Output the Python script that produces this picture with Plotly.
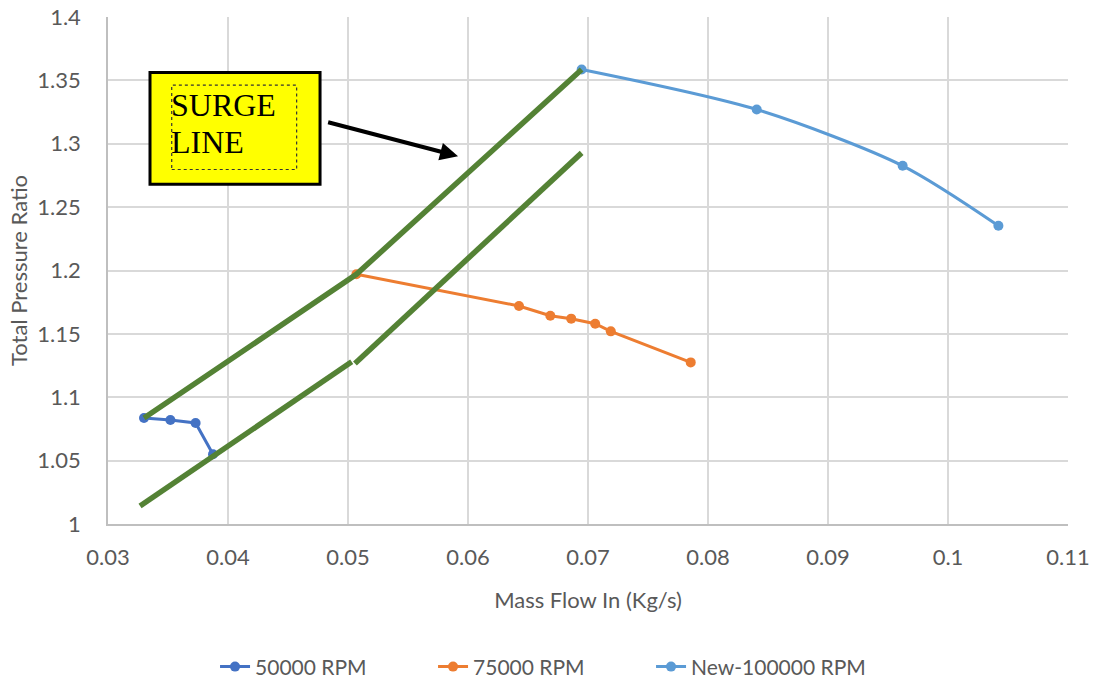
import plotly.graph_objects as go

# Data series
rpm50_x = [0.0330, 0.0352, 0.0373, 0.03875]
rpm50_y = [1.0836, 1.0820, 1.0797, 1.0550]

rpm75_x = [0.0507, 0.06425, 0.06686, 0.0686, 0.0706, 0.0719, 0.07856]
rpm75_y = [1.1970, 1.1720, 1.1643, 1.1620, 1.1580, 1.1520, 1.1275]

rpm100_x = [0.06947, 0.08406, 0.09622, 0.1042]
rpm100_y = [1.3586, 1.3270, 1.2826, 1.2353]

# Hand-drawn surge lines
surge_upper_x = [0.0330, 0.0507, 0.06947]
surge_upper_y = [1.0836, 1.1970, 1.3586]
surge_low1_x = [0.03267, 0.05031]
surge_low1_y = [1.0142, 1.1280]
surge_low2_x = [0.05058, 0.06947]
surge_low2_y = [1.1267, 1.2928]

# Tick labels
x_ticks = [0.03, 0.04, 0.05, 0.06, 0.07, 0.08, 0.09, 0.10, 0.11]
x_labels = ["0.03", "0.04", "0.05", "0.06", "0.07", "0.08", "0.09", "0.1", "0.11"]
y_ticks = [1.0, 1.05, 1.1, 1.15, 1.2, 1.25, 1.3, 1.35, 1.4]
y_labels = ["1", "1.05", "1.1", "1.15", "1.2", "1.25", "1.3", "1.35", "1.4"]

FONT = "Lato"
GREY = "#595959"
GREEN = "#548235"

fig = go.Figure()
fig.add_trace(go.Scatter(x=rpm50_x, y=rpm50_y, mode="lines+markers", name="50000 RPM",
                         line=dict(color="#4472C4", width=3), marker=dict(size=10, color="#4472C4")))
fig.add_trace(go.Scatter(x=rpm75_x, y=rpm75_y, mode="lines+markers", name="75000 RPM",
                         line=dict(color="#ED7D31", width=3), marker=dict(size=10, color="#ED7D31")))
fig.add_trace(go.Scatter(x=rpm100_x, y=rpm100_y, mode="lines+markers", name="New-100000 RPM",
                         line=dict(color="#5B9BD5", width=3, shape="spline", smoothing=0.8),
                         marker=dict(size=10, color="#5B9BD5")))
for xs, ys in [(surge_upper_x, surge_upper_y), (surge_low1_x, surge_low1_y), (surge_low2_x, surge_low2_y)]:
    fig.add_trace(go.Scatter(x=xs, y=ys, mode="lines", showlegend=False, hoverinfo="skip",
                             line=dict(color=GREEN, width=5.5)))

# Yellow label box
fig.add_shape(type="rect", xref="x", yref="y", x0=0.0335, x1=0.04767, y0=1.2681, y1=1.3562,
              fillcolor="#FFFF00", line=dict(color="black", width=3), layer="above")
fig.add_shape(type="rect", xref="x", yref="y", x0=0.03531, x1=0.04572, y0=1.2797, y1=1.3462,
              fillcolor="rgba(0,0,0,0)", line=dict(color="#333333", width=1.2, dash="dot"), layer="above")
for txt, yy in [("SURGE", 1.3308), ("LINE", 1.3017)]:
    fig.add_annotation(x=0.03515, y=yy, xref="x", yref="y", text=txt, showarrow=False,
                       xanchor="left", yanchor="middle", align="left", borderpad=0,
                       font=dict(family="Liberation Serif", size=32, color="black"))
# Arrow
fig.add_annotation(x=0.05917, y=1.2902, ax=0.04822, ay=1.3173, xref="x", yref="y", axref="x", ayref="y",
                   text="", showarrow=True, arrowhead=2, arrowsize=0.9, arrowwidth=4, arrowcolor="black")

fig.update_layout(
    width=1099, height=683,
    margin=dict(l=108, r=31, t=17, b=159, autoexpand=False),
    paper_bgcolor="white", plot_bgcolor="white",
    font=dict(family=FONT, color=GREY, size=21),
    legend=dict(orientation="h", x=0.1115, xanchor="left", y=-0.282, yanchor="middle",
                entrywidth=173, entrywidthmode="pixels",
                font=dict(size=21, color=GREY, family=FONT)),
    xaxis=dict(range=[0.03, 0.11], tickvals=x_ticks, ticktext=x_labels, automargin=False,
               showgrid=True, gridcolor="#D9D9D9", gridwidth=1.5, zeroline=False,
               showline=True, linecolor="#BFBFBF", linewidth=1.5,
               ticks="outside", ticklen=13, tickcolor="rgba(0,0,0,0)",
               tickfont=dict(size=22, color=GREY, family=FONT),
               title=dict(text="Mass Flow In (Kg/s)", font=dict(size=22, color=GREY, family=FONT), standoff=23)),
    yaxis=dict(range=[1.0, 1.4], tickvals=y_ticks, ticktext=y_labels, automargin=False,
               showgrid=True, gridcolor="#D9D9D9", gridwidth=1.5, zeroline=False,
               showline=True, linecolor="#BFBFBF", linewidth=1.5,
               ticks="outside", ticklen=21, tickcolor="rgba(0,0,0,0)",
               tickfont=dict(size=22, color=GREY, family=FONT),
               title=dict(text="Total Pressure Ratio", font=dict(size=22, color=GREY, family=FONT), standoff=4)),
)

fig.write_html("out.html")
